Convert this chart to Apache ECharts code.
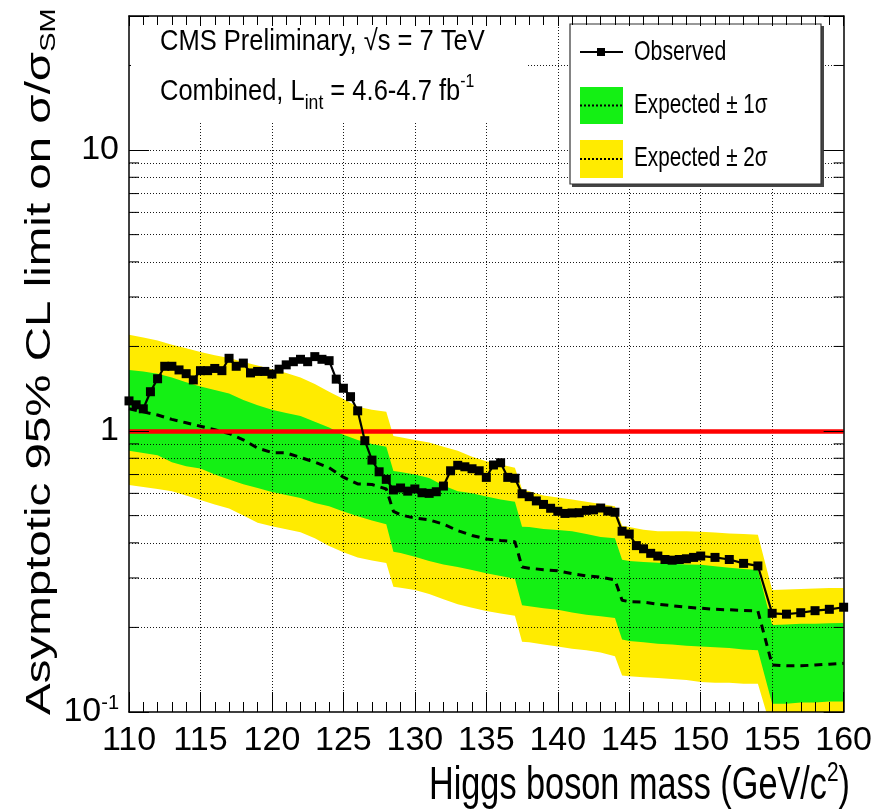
<!DOCTYPE html>
<html>
<head>
<meta charset="utf-8">
<script src="https://cdn.jsdelivr.net/npm/echarts@6/dist/echarts.min.js"></script>
<style>
  html, body { margin: 0; padding: 0; background: #fff; }
  #chart { width: 875px; height: 810px; }
</style>
</head>
<body>
<div id="chart"></div>
<script>
// Higgs boson mass points (GeV/c^2) of the observed limit
const massPoints = [110,110.5,111,111.5,112,112.5,113,113.5,114,114.5,115,115.5,116,116.5,117,117.5,118,118.5,119,119.5,
  120,120.5,121,121.5,122,122.5,123,123.5,124,124.5,125,125.5,126,126.5,127,127.5,128,128.5,129,129.5,
  130,130.5,131,131.5,132,132.5,133,133.5,134,134.5,135,135.5,136,136.5,137,137.5,138,138.5,139,139.5,
  140,140.5,141,141.5,142,142.5,143,143.5,144,144.5,145,145.5,146,146.5,147,147.5,148,148.5,149,149.5,
  150,151,152,153,154,155,156,157,158,159,160];

// Observed 95% CL upper limit on sigma/sigma_SM
const observed = [1.28,1.24,1.20,1.38,1.535,1.70,1.70,1.65,1.60,1.52,1.64,1.64,1.67,1.64,1.815,1.70,1.745,1.61,1.63,1.63,
  1.595,1.66,1.72,1.765,1.80,1.765,1.84,1.80,1.78,1.53,1.42,1.325,1.18,0.924,0.788,0.716,0.673,0.617,0.627,0.611,
  0.622,0.603,0.60,0.608,0.637,0.722,0.755,0.746,0.734,0.722,0.684,0.757,0.771,0.684,0.679,0.598,0.584,0.564,0.548,0.531,
  0.518,0.509,0.511,0.512,0.522,0.524,0.532,0.519,0.514,0.44,0.43,0.391,0.381,0.367,0.359,0.349,0.347,0.349,0.351,0.355,
  0.359,0.355,0.349,0.338,0.331,0.2245,0.223,0.2256,0.2294,0.232,0.236];

// Mass points of the expected limit and its bands
const bandMass = [110,111,112,113,114,115,116,117,118,119,120,121,122,123,124,125,126,127,128,128.5,
  129,130,131,132,133,134,135,136,137,137.5,138,139,140,141,142,143,144,144.5,
  145,146,147,148,149,150,151,152,153,154,155,156,157,158,159,160];

// Median expected limit
const expected = [1.20,1.17,1.14,1.10,1.07,1.04,1.01,0.98,0.93,0.87,0.838,0.836,0.805,0.775,0.74,0.685,0.648,0.645,0.622,0.518,
  0.503,0.49,0.483,0.466,0.442,0.425,0.413,0.408,0.404,0.328,0.325,0.321,0.318,0.311,0.305,0.302,0.295,0.25,
  0.247,0.246,0.242,0.239,0.236,0.234,0.232,0.231,0.23,0.229,0.147,0.146,0.146,0.147,0.148,0.149];

// +/- 1 sigma band edges
const oneSigmaUp = [1.65,1.63,1.60,1.55,1.49,1.44,1.40,1.36,1.29,1.235,1.19,1.16,1.13,1.08,1.03,0.97,0.93,0.90,0.88,0.72,
  0.715,0.70,0.68,0.64,0.61,0.60,0.585,0.57,0.56,0.456,0.455,0.448,0.444,0.44,0.43,0.42,0.415,0.348,
  0.345,0.342,0.34,0.337,0.335,0.334,0.33,0.326,0.323,0.32,0.204,0.205,0.206,0.206,0.207,0.2075];
const oneSigmaDown = [0.85,0.835,0.82,0.775,0.75,0.735,0.70,0.672,0.646,0.627,0.607,0.592,0.578,0.555,0.54,0.517,0.497,0.48,0.466,0.372,
  0.368,0.357,0.345,0.335,0.328,0.32,0.312,0.305,0.298,0.24,0.238,0.234,0.231,0.226,0.222,0.219,0.216,0.181,
  0.179,0.177,0.175,0.174,0.172,0.171,0.17,0.169,0.167,0.166,0.107,0.107,0.108,0.108,0.109,0.109];

// +/- 2 sigma band edges
const twoSigmaUp = [2.20,2.15,2.10,2.03,1.97,1.91,1.86,1.82,1.76,1.71,1.66,1.61,1.55,1.47,1.38,1.30,1.22,1.19,1.17,0.96,
  0.95,0.93,0.91,0.88,0.85,0.81,0.78,0.76,0.74,0.62,0.61,0.59,0.58,0.57,0.56,0.55,0.54,0.46,
  0.455,0.445,0.44,0.44,0.44,0.438,0.435,0.432,0.43,0.427,0.272,0.273,0.274,0.275,0.276,0.276];
const twoSigmaDown = [0.642,0.632,0.622,0.61,0.59,0.568,0.548,0.53,0.50,0.472,0.458,0.447,0.436,0.415,0.39,0.37,0.355,0.346,0.339,0.279,
  0.277,0.272,0.263,0.252,0.242,0.235,0.229,0.224,0.22,0.178,0.177,0.174,0.171,0.168,0.166,0.163,0.158,0.135,
  0.134,0.133,0.132,0.131,0.13,0.128,0.127,0.127,0.126,0.126,0.085,0.085,0.085,0.085,0.085,0.085];

// Axis ranges and grid levels
const massRange = [110, 160];
const massStep = 5;
const limitRange = [0.1, 30];
const massGridLines = [115, 120, 125, 130, 135, 140, 145, 150, 155];
const limitGridLines = [0.2, 0.3, 0.4, 0.5, 0.6, 0.7, 0.8, 0.9, 1, 2, 3, 4, 5, 6, 7, 8, 9, 10, 20];
const limitMinorTicks = [0.2, 0.3, 0.4, 0.5, 0.6, 0.7, 0.8, 0.9, 2, 3, 4, 5, 6, 7, 8, 9, 20];
const smReference = 1;

const SANS = '"Liberation Sans", Arial, Helvetica, sans-serif';
const NARROW = '"Liberation Sans Narrow", "Liberation Sans", Arial, sans-serif';
const YELLOW = '#ffeb00';
const GREEN = '#14f014';

function bandSeries(name, upper, lower, color) {
  return {
    type: 'custom', name: name, z: 1, silent: true, animation: false,
    data: [[massRange[0], lower[0]]],
    renderItem: function (params, api) {
      const pts = [];
      for (let i = 0; i < bandMass.length; i++) pts.push(api.coord([bandMass[i], upper[i]]));
      for (let i = bandMass.length - 1; i >= 0; i--) pts.push(api.coord([bandMass[i], lower[i]]));
      const cs = params.coordSys;
      return {
        type: 'polygon',
        shape: { points: pts },
        style: { fill: color, stroke: null },
        clipPath: { type: 'rect', shape: { x: cs.x, y: cs.y, width: cs.width, height: cs.height } }
      };
    }
  };
}

function yLabel(v) {
  if (Math.abs(v - 0.1) < 1e-9) return '{b|10}{s|-1}';
  if (Math.abs(v - 1) < 1e-9) return '{b|1}';
  if (Math.abs(v - 10) < 1e-9) return '{b|10}';
  return '';
}

const chart = echarts.init(document.getElementById('chart'));

chart.setOption({
  animation: false,
  backgroundColor: '#fff',
  grid: { left: 129, right: 26, top: 16, bottom: 98, containLabel: false },
  xAxis: [{
    type: 'value', min: massRange[0], max: massRange[1], interval: massStep,
    axisLine: { show: true, onZero: false, lineStyle: { color: '#000', width: 1.5 } },
    axisTick: { show: true, inside: true, length: 20, lineStyle: { color: '#000', width: 1 } },
    minorTick: { show: true, splitNumber: 5, length: 10, lineStyle: { color: '#000', width: 1 } },
    splitLine: { show: false },
    axisLabel: { color: '#000', fontFamily: NARROW, fontSize: 34, margin: 12 },
    z: 20
  }, {
    type: 'value', position: 'top', min: massRange[0], max: massRange[1], interval: massStep,
    axisLine: { show: true, onZero: false, lineStyle: { color: '#000', width: 1.5 } },
    axisTick: { show: true, inside: true, length: 10, lineStyle: { color: '#000', width: 1 } },
    minorTick: { show: true, splitNumber: 5, length: 9, lineStyle: { color: '#000', width: 1 } },
    splitLine: { show: false },
    axisLabel: { show: false },
    z: 20
  }],
  yAxis: [{
    type: 'log', logBase: 10, min: limitRange[0], max: limitRange[1],
    axisLine: { show: true, onZero: false, lineStyle: { color: '#000', width: 1.5 } },
    axisTick: { show: true, inside: true, length: 20, lineStyle: { color: '#000', width: 1 } },
    minorTick: { show: false },
    splitLine: { show: false },
    axisLabel: {
      formatter: yLabel, margin: 10,
      rich: {
        b: { fontFamily: NARROW, fontSize: 34, color: '#000' },
        s: { fontFamily: NARROW, fontSize: 20, color: '#000', padding: [0, 0, 18, 0] }
      }
    },
    z: 20
  }, {
    type: 'log', logBase: 10, position: 'right', min: limitRange[0], max: limitRange[1],
    axisLine: { show: true, onZero: false, lineStyle: { color: '#000', width: 1.5 } },
    axisTick: { show: true, inside: true, length: 20, lineStyle: { color: '#000', width: 1 } },
    minorTick: { show: false },
    splitLine: { show: false },
    axisLabel: { show: false },
    z: 20
  }],
  series: [
    bandSeries('Expected ± 2σ', twoSigmaUp, twoSigmaDown, YELLOW),
    bandSeries('Expected ± 1σ', oneSigmaUp, oneSigmaDown, GREEN),
    {
      // minor ticks of the log axis on both sides, plus the dotted grid
      type: 'custom', name: 'grid', z: 2, silent: true, animation: false,
      data: limitMinorTicks.map(function (v) { return [massRange[0], v]; }),
      renderItem: function (params, api) {
        const v = api.value(1);
        const l = api.coord([massRange[0], v]);
        const r = api.coord([massRange[1], v]);
        return {
          type: 'group',
          children: [
            { type: 'line', shape: { x1: l[0], y1: l[1], x2: l[0] + 10, y2: l[1] }, style: { stroke: '#000', lineWidth: 1 } },
            { type: 'line', shape: { x1: r[0], y1: r[1], x2: r[0] - 10, y2: r[1] }, style: { stroke: '#000', lineWidth: 1 } }
          ]
        };
      },
      markLine: {
        silent: true, symbol: 'none', animation: false,
        label: { show: false },
        lineStyle: { color: '#000', width: 1, type: [1, 2], opacity: 0.9 },
        data: limitGridLines.map(function (v) { return { yAxis: v }; })
          .concat(massGridLines.map(function (v) { return { xAxis: v }; }))
      }
    },
    {
      type: 'line', name: 'SM', z: 3, data: [], silent: true,
      markLine: {
        silent: true, symbol: 'none', animation: false,
        label: { show: false },
        lineStyle: { color: '#ff0000', width: 4.5, type: 'solid' },
        data: [{ yAxis: smReference }]
      }
    },
    {
      type: 'line', name: 'Expected', z: 4,
      data: bandMass.map(function (m, i) { return [m, expected[i]]; }),
      showSymbol: false, symbol: 'none',
      lineStyle: { color: '#000', width: 3, type: [8, 6] }
    },
    {
      type: 'line', name: 'Observed', z: 5,
      data: massPoints.map(function (m, i) { return [m, observed[i]]; }),
      symbol: 'rect', symbolSize: 9,
      itemStyle: { color: '#000' },
      lineStyle: { color: '#000', width: 2.2 }
    }
  ],
  graphic: [
    // white label panel, top left
    { type: 'rect', z: 10, shape: { x: 131, y: 17.5, width: 395, height: 105 }, style: { fill: '#fff' } },
    {
      type: 'text', z: 11, x: 160, y: 42, scaleX: 0.88,
      style: { text: 'CMS Preliminary, √s = 7 TeV', fill: '#000', font: '29px ' + SANS, verticalAlign: 'middle' }
    },
    {
      type: 'text', z: 11, x: 160, y: 92, scaleX: 0.88,
      style: {
        text: '{a|Combined, L}{sub|int}{a| = 4.6-4.7 fb}{sup|-1}',
        verticalAlign: 'middle',
        rich: {
          a: { fontSize: 29, fontFamily: SANS, color: '#000' },
          sub: { fontSize: 20, fontFamily: SANS, color: '#000', padding: [22, 0, 0, 0] },
          sup: { fontSize: 18, fontFamily: SANS, color: '#000', padding: [0, 0, 20, 0] }
        }
      }
    },
    // legend
    { type: 'rect', z: 10, shape: { x: 572, y: 26, width: 252, height: 161 }, style: { fill: '#444' } },
    { type: 'rect', z: 11, shape: { x: 570, y: 24, width: 251, height: 160 }, style: { fill: '#fff', stroke: '#333', lineWidth: 1.2 } },
    { type: 'line', z: 12, shape: { x1: 580, y1: 52, x2: 623, y2: 52 }, style: { stroke: '#000', lineWidth: 2 } },
    { type: 'rect', z: 12, shape: { x: 597, y: 48, width: 8, height: 8 }, style: { fill: '#000' } },
    { type: 'text', z: 12, x: 634, y: 52, scaleX: 0.76, style: { text: 'Observed', fill: '#000', font: '28px ' + SANS, verticalAlign: 'middle' } },
    { type: 'rect', z: 12, shape: { x: 580, y: 87, width: 43, height: 37 }, style: { fill: GREEN } },
    { type: 'line', z: 13, shape: { x1: 580, y1: 105.5, x2: 623, y2: 105.5 }, style: { stroke: '#000', lineWidth: 2, lineDash: [2, 2] } },
    { type: 'text', z: 12, x: 634, y: 105, scaleX: 0.74, style: { text: 'Expected ± 1σ', fill: '#000', font: '28px ' + SANS, verticalAlign: 'middle' } },
    { type: 'rect', z: 12, shape: { x: 580, y: 140, width: 43, height: 38 }, style: { fill: YELLOW } },
    { type: 'line', z: 13, shape: { x1: 580, y1: 159, x2: 623, y2: 159 }, style: { stroke: '#000', lineWidth: 2, lineDash: [2, 2] } },
    { type: 'text', z: 12, x: 634, y: 158, scaleX: 0.74, style: { text: 'Expected ± 2σ', fill: '#000', font: '28px ' + SANS, verticalAlign: 'middle' } },
    // axis titles
    {
      type: 'text', z: 12, x: 850, y: 786, scaleX: 0.745,
      style: {
        text: '{n|Higgs boson mass (GeV/c}{p|2}{n|)}',
        align: 'right', verticalAlign: 'middle',
        rich: {
          n: { fontSize: 46, fontFamily: SANS, color: '#000' },
          p: { fontSize: 28, fontFamily: SANS, color: '#000', padding: [0, 0, 26, 0] }
        }
      }
    },
    {
      type: 'text', z: 12, x: 40, y: 715, rotation: Math.PI / 2, scaleY: 0.75,
      style: {
        text: '{n|Asymptotic 95% CL limit on σ/σ}{d|SM}',
        align: 'left', verticalAlign: 'middle',
        rich: {
          n: { fontSize: 47.5, fontFamily: SANS, color: '#000' },
          d: { fontSize: 29, fontFamily: SANS, color: '#000', padding: [24, 0, 0, 0] }
        }
      }
    }
  ]
});
</script>
</body>
</html>
